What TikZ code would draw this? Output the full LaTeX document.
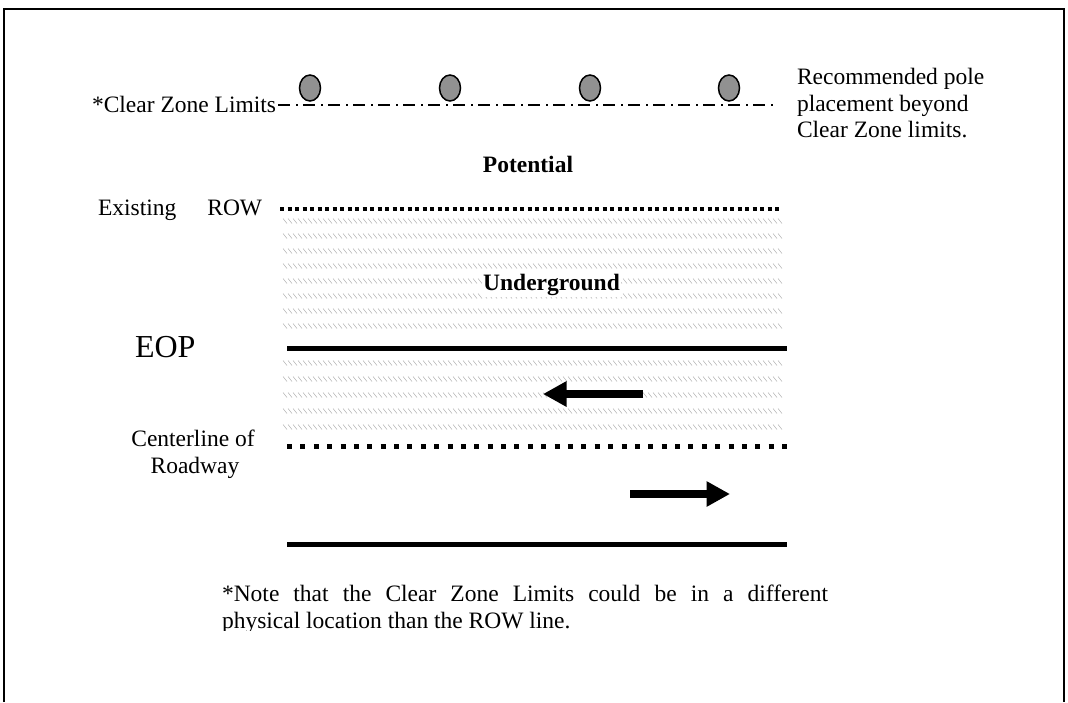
\documentclass[tikz,border=0pt]{standalone}
\usepackage{fontspec}
\setmainfont{Liberation Serif}
\usetikzlibrary{arrows.meta,shapes.geometric}
\definecolor{polegray}{RGB}{145,145,145}
\definecolor{hatchgray}{RGB}{188,188,188}
\begin{document}
\begin{tikzpicture}[x=1pt,y=-1pt,
  txt/.style={font=\fontsize{23.5}{26.7}\selectfont, inner sep=0pt, outer sep=0pt},
  pole/.style={ellipse, draw=black, line width=1.5pt, fill=polegray, minimum width=21pt, minimum height=26pt, inner sep=0pt},
  hatchline/.style={draw=hatchgray, line width=0.6pt},
  solidroad/.style={line width=5pt},
  rowdots/.style={line width=4pt, dash pattern=on 4pt off 3.5pt},
  centerdots/.style={line width=5pt, dash pattern=on 5pt off 8.38pt},
  clearzone/.style={line width=1.8pt, dash pattern=on 12pt off 6pt on 2pt off 5pt},
  bigarrow/.style={line width=8pt, -{Triangle[length=23.5pt,width=24pt]}}]
\useasboundingbox (0,0) rectangle (1068,702);
% frame
\coordinate (fbl) at (4,702);
\coordinate (ftl) at (4,9);
\coordinate (ftr) at (1064,9);
\coordinate (fbr) at (1064,702);
\draw[line width=2pt] (fbl) -- (ftl) -- (ftr) -- (fbr);

% hatched band (potential underground area)
\foreach \yy in {221,236,251,266,281,296,311,326,363,379,395,411,427} {
  \draw[hatchline] \foreach \xx in {283,288,...,780} { (\xx,\yy-2.5) -- ++(4,5) };
}

% clear zone line and poles
\node[txt, anchor=base west] (czl) at (92,112) {*Clear Zone Limits};
\coordinate (cz1) at (278,105);
\coordinate (cz2) at (773,105);
\draw[clearzone] (cz1) -- (cz2);
\node[pole] (p1) at (310,88) {};
\node[pole] (p2) at (450,88) {};
\node[pole] (p3) at (590,88) {};
\node[pole] (p4) at (729,88) {};
\node[txt, anchor=base west] (r1) at (797,84) {Recommended pole};
\node[txt, anchor=base west] (r2) at (797,111) {placement beyond};
\node[txt, anchor=base west] (r3) at (797,137.5) {Clear Zone limits.};

% potential
\node[txt, anchor=base, font=\fontsize{23.5}{26.7}\selectfont\bfseries] (pot) at (528,172) {Potential};

% existing ROW
\node[txt, anchor=base west] (row) at (98,215) {Existing\hspace{31pt}ROW};
\coordinate (row1) at (280,209);
\coordinate (row2) at (779,209);
\draw[rowdots] (row1) -- (row2);

% underground label
\node[txt, anchor=base, fill=white, inner sep=1.5pt, font=\fontsize{23.5}{26.7}\selectfont\bfseries] (ug) at (551.5,290) {Underground};

% EOP
\node[txt, anchor=base west, font=\fontsize{32}{36}\selectfont] (eop) at (135,357) {EOP};
\coordinate (eop1) at (287,348.5);
\coordinate (eop2) at (787,348.5);
\draw[solidroad] (eop1) -- (eop2);

% arrows
\coordinate (la1) at (643,394);
\coordinate (la2) at (543,394);
\draw[bigarrow] (la1) -- (la2);
\coordinate (ra1) at (630,494);
\coordinate (ra2) at (730,494);
\draw[bigarrow] (ra1) -- (ra2);

% centerline
\node[txt, anchor=base] (cl1) at (193,446) {Centerline of};
\node[txt, anchor=base] (cl2) at (195,473) {Roadway};
\coordinate (c1) at (287,446);
\coordinate (c2) at (787,446);
\draw[centerdots] (c1) -- (c2);

% bottom edge
\coordinate (b1) at (287,544);
\coordinate (b2) at (787,544);
\draw[solidroad] (b1) -- (b2);

% note
\node[txt, anchor=base west] (n1) at (222,601) {\makebox[606pt][s]{*Note that the Clear Zone Limits could be in a different}};
\begin{scope}
  \clip (200,570) rectangle (900,630);
  \node[txt, anchor=base west] (n2) at (222,628) {physical location than the ROW line.};
\end{scope}
\end{tikzpicture}
\end{document}
